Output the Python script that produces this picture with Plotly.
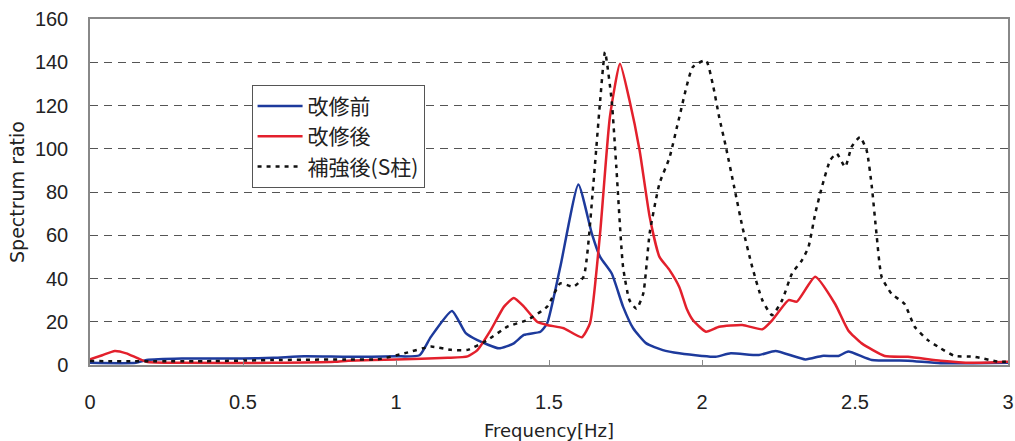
import plotly.graph_objects as go

# ---- data ----
before_x = [0, 0.15, 0.185, 0.3, 0.5, 0.6, 0.7, 0.844, 1.0, 1.077, 1.114, 1.183, 1.228, 1.266, 1.336,
            1.385, 1.418, 1.472, 1.494, 1.537, 1.596, 1.640, 1.667, 1.705, 1.742, 1.775, 1.818, 1.872,
            1.926, 2.0, 2.045, 2.094, 2.186, 2.24, 2.338, 2.392, 2.446, 2.478, 2.555, 2.673, 2.78, 3.0]
before_y = [1, 1, 2.3, 3, 3, 3.3, 4, 3.8, 4, 4.5, 13, 25, 14.7, 11.5, 7.7,
            10, 13.9, 15.4, 19.3, 45.4, 83.5, 60.8, 50, 42.3, 27, 17, 10, 6.9,
            5.4, 4.2, 3.8, 5.4, 4.6, 6.5, 2.6, 4.2, 4.2, 6.2, 2.3, 2, 0.8, 1]

after_x = [0, 0.04, 0.081, 0.119, 0.184, 0.3, 0.6, 0.8, 0.844, 1.0, 1.169, 1.234, 1.266, 1.309, 1.353,
           1.385, 1.418, 1.461, 1.494, 1.548, 1.607, 1.634, 1.667, 1.699, 1.732, 1.763, 1.796, 1.829,
           1.861, 1.894, 1.926, 1.95, 1.97, 2.013, 2.056, 2.132, 2.197, 2.23, 2.283, 2.31, 2.37, 2.435,
           2.478, 2.522, 2.597, 2.673, 2.78, 2.88, 3.0]
after_y = [2.6, 4.5, 6.5, 5.4, 1.5, 1, 1, 1.5, 2, 2.6, 3.3, 4, 6.9, 16, 27,
           31, 27, 20, 18.5, 17, 12.8, 19.3, 61, 114.7, 139.3, 122.4, 99.3, 68.5,
           50, 43.9, 36, 26, 20.8, 15.4, 17.7, 18.5, 16.5, 20.8, 30, 29.3, 40.8, 28.2,
           16, 10, 4.2, 3.8, 2, 1, 1.5]

reinf_x = [0, 0.4, 0.6, 0.85, 0.94, 1.028, 1.114, 1.18, 1.234, 1.299, 1.364, 1.429, 1.494, 1.537, 1.58,
           1.613, 1.645, 1.667, 1.683, 1.705, 1.72, 1.742, 1.763, 1.786, 1.808, 1.829, 1.861, 1.894,
           1.926, 1.97, 2.013, 2.035, 2.056, 2.078, 2.105, 2.132, 2.164, 2.197, 2.229, 2.262, 2.294,
           2.327, 2.348, 2.37, 2.392, 2.419, 2.44, 2.468, 2.489, 2.516, 2.538, 2.555, 2.57, 2.587,
           2.619, 2.662, 2.695, 2.738, 2.78, 2.825, 2.89, 2.97, 3.0]
reinf_y = [1.8, 1.8, 2.3, 2.6, 2.6, 5.4, 8.5, 7, 7, 11.5, 17.7, 20.8, 27, 37.7, 36.2,
           40.8, 83.9, 122, 144.7, 122, 91.6, 45.4, 30, 26, 33, 61, 83.9, 96,
           114.7, 137.8, 140.9, 130, 114.7, 100.9, 82.4, 63.9, 45.4, 30, 23, 30, 42.3,
           48.5, 54.6, 70, 82.4, 94.7, 97.8, 91.6, 100.9, 105.4, 99.3, 82.4, 61, 40.8,
           33, 28.2, 17.7, 11.5, 7.7, 4.2, 3.8, 1.5, 1.5]

x_ticks = [0, 0.5, 1, 1.5, 2, 2.5, 3]
x_ticktext = ["0", "0.5", "1", "1.5", "2", "2.5", "3"]
y_ticks = [0, 20, 40, 60, 80, 100, 120, 140, 160]

names = ["改修前", "改修後", "補強後(S柱)"]

fig = go.Figure()
fig.add_trace(go.Scatter(x=before_x, y=before_y, mode="lines", name=names[0], legendgroup="a",
                         line=dict(color="#1d3a9c", width=2.5, shape="spline", smoothing=0.5)))
fig.add_trace(go.Scatter(x=after_x, y=after_y, mode="lines", name=names[1], legendgroup="b",
                         line=dict(color="#e3202c", width=2.5, shape="spline", smoothing=0.5)))
fig.add_trace(go.Scatter(x=reinf_x, y=reinf_y, mode="lines", name=names[2], legendgroup="c",
                         line=dict(color="#111111", width=2.5, dash="4px,5px", shape="spline", smoothing=0.5)))

num_font = dict(family="Liberation Sans, Arial, sans-serif", size=20, color="#222")

fig.update_layout(
    width=1015, height=441,
    margin=dict(l=90, r=1, t=19, b=76),
    paper_bgcolor="white", plot_bgcolor="white",
    showlegend=True,
    legend=dict(x=0.176, y=0.81, xanchor="left", yanchor="top",
                bgcolor="white", bordercolor="#555", borderwidth=1,
                font=dict(family="Noto Sans CJK JP", size=21, color="#222"),
                itemwidth=45, tracegroupgap=0),
    xaxis=dict(range=[0, 3], tickvals=x_ticks, ticktext=x_ticktext,
               showgrid=False, zeroline=False,
               showline=True, linecolor="#888", linewidth=1.5, mirror=True,
               ticks="inside", ticklen=5, tickcolor="#888",
               ticklabelstandoff=18, ticklabeloverflow="allow", tickfont=num_font,
               title=dict(text="Frequency[Hz]", standoff=13,
                          font=dict(family="DejaVu Sans, sans-serif", size=18, color="#222"))),
    yaxis=dict(range=[0, 160], tickvals=y_ticks,
               showgrid=True, gridcolor="#555", griddash="8px,6px", gridwidth=1,
               zeroline=False,
               showline=True, linecolor="#888", linewidth=1.5, mirror=True,
               ticks="", ticklabelstandoff=16, tickfont=num_font,
               title=dict(text="Spectrum ratio", standoff=5,
                          font=dict(family="DejaVu Sans, sans-serif", size=19, color="#222"))),
)

fig.write_html("out.html")
